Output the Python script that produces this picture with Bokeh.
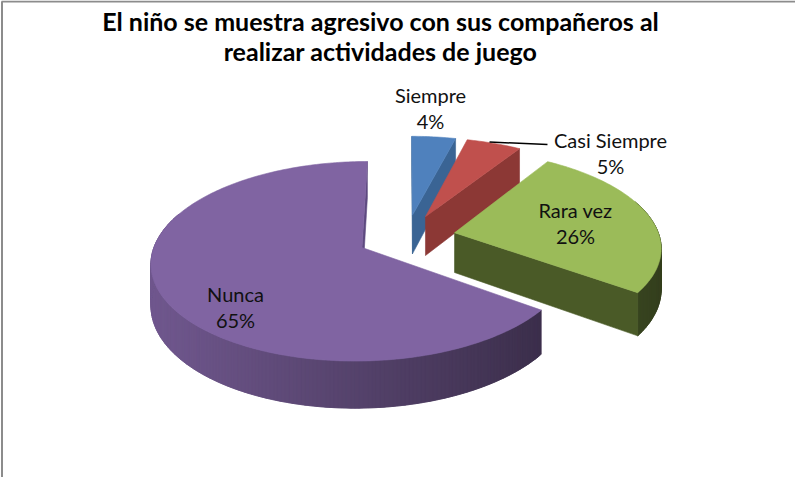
import numpy as np
from bokeh.plotting import figure
from bokeh.models import Range1d, ColumnDataSource
from bokeh.core.properties import value
from bokeh.embed import file_html
from bokeh.resources import INLINE

# ---------------- data ----------------
categories = ["Siempre", "Casi Siempre", "Rara vez", "Nunca"]
percent = [4, 5, 26, 65]
title_lines = ["El niño se muestra agresivo con sus compañeros al",
               "realizar actividades de juego"]

# ---------------- styles ----------------
top_colors = ["#4F81BD", "#C0504D", "#9BBB59", "#8064A2"]
face_colors = ["#3A6494", "#8C3835", "#4A5A27", "#5E4A80"]
FONT = "Lato"

# ---------------- layout ----------------
W, H = 795, 477
CX, CY = 414.0, 244.5      # pie centre (page px)
RX, RY = 205.0, 95.0       # radii
K = 0.136                  # perspective strength
T = 40.0                   # thickness
EXPLODE = 0.24
LABEL_XY = [(438, 115), (618, 160), (583, 230), (243, 314)]
LABEL_GAP = 13

p = figure(width=W, height=H, x_range=Range1d(8, 8 + W), y_range=Range1d(8 + H, 8),
           output_backend="svg", toolbar_location=None, min_border=0,
           x_axis_type=None, y_axis_type=None)
p.outline_line_color = None
p.background_fill_color = "white"
p.border_fill_color = "white"


def proj(u, v, z):
    s = 1.0 / (1.0 - K * v)
    return CX + RX * u * s, CY + RY * v * s + z * T * s


def hex2rgb(h):
    h = h.lstrip("#")
    return tuple(int(h[i:i + 2], 16) for i in (0, 2, 4))


def rgb2hex(c):
    return "#%02x%02x%02x" % tuple(int(max(0, min(255, round(x)))) for x in c)


total = float(sum(percent))
ends = np.cumsum(percent) / total * 360.0
starts = np.concatenate([[0.0], ends[:-1]])
mids = (starts + ends) / 2.0

slices = []
for i in range(len(percent)):
    a0, a1, am = starts[i], ends[i], mids[i]
    ou = EXPLODE * np.sin(np.radians(am))
    ov = -EXPLODE * np.cos(np.radians(am))
    n = max(4, int((a1 - a0) / 1.0) + 1)
    th = np.radians(np.linspace(a0, a1, n))
    u = ou + np.sin(th)
    v = ov - np.cos(th)
    slices.append(dict(i=i, a0=a0, a1=a1, ou=ou, ov=ov, th=th, u=u, v=v))

# horizontal extent for wall shading
allx = np.concatenate([proj(s["u"], s["v"], 0)[0] for s in slices])
XMIN, XMAX = allx.min(), allx.max()

xs, ys, cols = [], [], []
for s in sorted(slices, key=lambda d: d["ov"]):
    i = s["i"]
    top = np.array(hex2rgb(top_colors[i]), dtype=float)
    ax0, ay0 = proj(s["ou"], s["ov"], 0)
    ax1, ay1 = proj(s["ou"], s["ov"], 1)
    tx, ty = proj(s["u"], s["v"], 0)
    bx, by = proj(s["u"], s["v"], 1)
    m = len(s["th"])
    # outer wall (overlapping strips to avoid seams)
    for j in range(m - 1):
        thm = (s["th"][j] + s["th"][j + 1]) / 2
        if np.cos(thm) > 0.35:
            continue
        j2 = min(j + 2, m - 1)
        xm = (tx[j] + tx[j + 1]) / 2
        t = (xm - XMIN) / (XMAX - XMIN)
        ratio = 0.88 - 0.54 * t
        c = rgb2hex(top * ratio)
        xs.append([tx[j], tx[j + 1], tx[j2], bx[j2], bx[j + 1], bx[j]])
        ys.append([ty[j], ty[j + 1], ty[j2], by[j2], by[j + 1], by[j]])
        cols.append(c)
    # radial faces
    if tx[-1] > ax0:
        xs.append([ax0, tx[-1], bx[-1], ax1])
        ys.append([ay0, ty[-1], by[-1], ay1])
        cols.append(face_colors[i])
    if tx[0] < ax0:
        xs.append([ax0, tx[0], bx[0], ax1])
        ys.append([ay0, ty[0], by[0], ay1])
        cols.append(face_colors[i])
    # top face
    xs.append([ax0] + list(tx))
    ys.append([ay0] + list(ty))
    cols.append(top_colors[i])

src = ColumnDataSource(dict(xs=xs, ys=ys, c=cols))
p.patches("xs", "ys", source=src, fill_color="c", line_color="c", line_width=0.6)

# leader line for the small slice label
p.line([497, 555], [149.5, 152], line_color="black", line_width=1.5)

# labels
names_x = [xy[0] for xy in LABEL_XY]
p.text(x=names_x, y=[xy[1] - LABEL_GAP for xy in LABEL_XY], text=categories,
       text_font=value(FONT), text_font_size="20px", text_color="#111111",
       text_align="center", text_baseline="middle")
p.text(x=names_x, y=[xy[1] + LABEL_GAP for xy in LABEL_XY],
       text=["%d%%" % v for v in percent],
       text_font=value(FONT), text_font_size="20px", text_color="#111111",
       text_align="center", text_baseline="middle")

# title
p.text(x=[388, 388], y=[28, 58], text=title_lines, text_font=value(FONT),
       text_font_size="25px", text_font_style="bold", text_color="#000000",
       text_align="center", text_baseline="middle")

# chart frame (left and top edges)
p.line([9.5, 9.5], [485, 9], line_color="#8C8C8C", line_width=2)
p.line([9, 803], [9, 9], line_color="#8C8C8C", line_width=2)

open("out.html", "w").write(file_html(p, INLINE))
